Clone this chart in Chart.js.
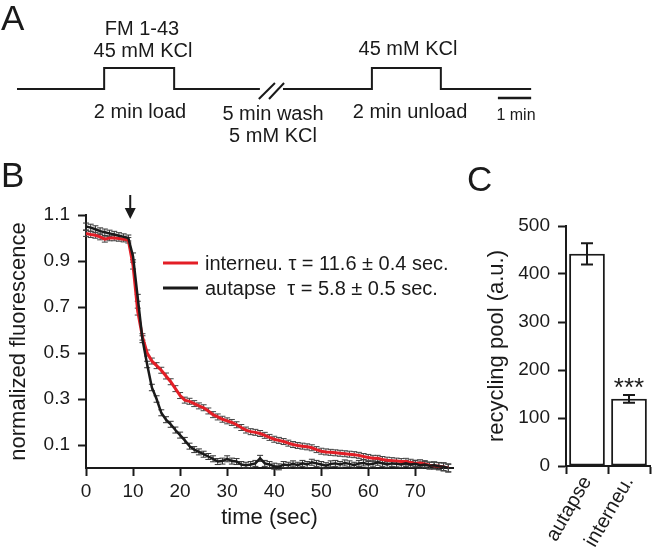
<!DOCTYPE html>
<html><head><meta charset="utf-8">
<script src="https://cdn.jsdelivr.net/npm/chart.js@4"></script>
<style>
html,body{margin:0;padding:0;background:#fff;}
body{width:652px;height:547px;position:relative;overflow:hidden;font-family:"Liberation Sans",Arial,sans-serif;color:#1a1a1a}
canvas{position:absolute}
.lbl{position:absolute;font-size:35px;line-height:35px}
</style></head><body>
<canvas id="a" width="652" height="160" style="left:0;top:0"></canvas>
<canvas id="b" width="470" height="377" style="left:0;top:170px"></canvas>
<canvas id="c" width="182" height="377" style="left:470px;top:170px"></canvas>
<div class="lbl" style="left:1px;top:0px">A</div>
<div class="lbl" style="left:1px;top:157px">B</div>
<div class="lbl" style="left:467px;top:161px">C</div>
<script>
// ---------- Panel A: protocol (minutes) ----------
const stepTimes  = [0, 2.49, 2.49, 4.49, 4.49, 6.94, 7.27, 7.6, 10.14, 10.14, 12.11, 12.11, 14.69];
const stepLevels = [0, 0, 1, 1, 0, 0, null, 0, 0, 1, 1, 0, 0];
const breakTimes1 = [6.91, 7.37];
const breakTimes2 = [7.2, 7.63];
const breakLevels = [-0.476, 0.286];
const scaleBarTimes = [13.74, 14.69];
const scaleBarLevels = [-0.43, -0.43];
const protocolTexts = ['FM 1-43', '45 mM KCl', '45 mM KCl', '2 min load', '5 min wash', '5 mM KCl', '2 min unload', '1 min'];

// ---------- Panel B: destaining ----------
const timeSec = [0,1,2,3,4,5,6,7,8,9,10,11,12,13,14,15,16,17,18,19,20,21,22,23,24,25,26,27,28,29,30,31,32,33,34,35,36,37,38,39,40,41,42,43,44,45,46,47,48,49,50,51,52,53,54,55,56,57,58,59,60,61,62,63,64,65,66,67,68,69,70,71,72,73,74,75,76,77];
const interneuron = [1.02,1.015,1.012,1.005,0.995,1.0,1.0,0.998,0.995,0.99,
 0.88,0.68,0.57,0.50,0.465,0.445,0.425,0.40,0.375,0.345,
 0.315,0.295,0.29,0.28,0.27,0.262,0.248,0.232,0.222,0.212,
 0.205,0.198,0.188,0.176,0.165,0.158,0.155,0.15,0.142,0.133,
 0.125,0.12,0.115,0.108,0.102,0.098,0.095,0.092,0.088,0.08,
 0.073,0.07,0.068,0.066,0.064,0.062,0.06,0.058,0.055,0.05,
 0.046,0.042,0.042,0.037,0.034,0.032,0.03,0.028,0.028,0.024,
 0.02,0.022,0.018,0.012,0.01,0.008,0.005,0.0];
const interneuronErr = [0.013,0.013,0.013,0.013,0.013,0.012,0.012,0.012,0.012,0.012,
 0.015,0.015,0.014,0.013,0.013,0.013,0.013,0.013,0.013,0.013,
 0.013,0.013,0.013,0.013,0.013,0.013,0.013,0.013,0.013,0.013,
 0.013,0.013,0.013,0.013,0.013,0.013,0.013,0.013,0.013,0.013,
 0.013,0.013,0.013,0.013,0.013,0.013,0.013,0.013,0.013,0.013,
 0.013,0.013,0.013,0.013,0.013,0.013,0.013,0.013,0.013,0.013,
 0.013,0.013,0.013,0.013,0.013,0.013,0.013,0.013,0.014,0.014,
 0.014,0.014,0.014,0.014,0.015,0.015,0.016,0.016];
const autapse = [1.05,1.045,1.038,1.03,1.025,1.02,1.015,1.01,1.005,1.0,
 0.92,0.74,0.56,0.45,0.35,0.30,0.24,0.21,0.19,0.165,
 0.143,0.12,0.095,0.08,0.07,0.06,0.05,0.04,0.028,0.03,
 0.04,0.03,0.028,0.015,0.012,0.015,0.02,0.042,0.02,0.015,
 0.008,0.005,0.015,0.012,0.018,0.012,0.02,0.015,0.025,0.02,
 0.015,0.01,0.018,0.02,0.015,0.022,0.018,0.012,0.02,0.022,
 0.015,0.018,0.025,0.02,0.015,0.02,0.018,0.015,0.02,0.015,
 0.018,0.012,0.015,0.01,0.012,0.008,0.005,0.0];
const autapseErr = [0.015,0.015,0.015,0.014,0.014,0.014,0.014,0.013,0.013,0.013,
 0.015,0.015,0.015,0.014,0.014,0.014,0.013,0.013,0.013,0.013,
 0.013,0.013,0.013,0.013,0.013,0.013,0.013,0.013,0.013,0.013,
 0.013,0.013,0.013,0.013,0.013,0.013,0.013,0.013,0.013,0.013,
 0.013,0.013,0.013,0.013,0.013,0.013,0.013,0.013,0.013,0.013,
 0.013,0.013,0.013,0.013,0.013,0.013,0.013,0.013,0.013,0.013,
 0.013,0.013,0.013,0.013,0.013,0.013,0.013,0.013,0.013,0.013,
 0.014,0.014,0.014,0.015,0.015,0.016,0.018,0.018];
const timeTicks = [0,10,20,30,40,50,60,70];
const fluorTicks = [0.1,0.3,0.5,0.7,0.9,1.1];
const legendLabels = ['interneu. \u03c4 = 11.6 \u00b1 0.4 sec.', 'autapse  \u03c4 = 5.8 \u00b1 0.5 sec.'];
const stimulusTime = 9.4;

// ---------- Panel C: recycling pool ----------
const poolCategories = ['autapse', 'interneu.'];
const poolValues = [442, 140];
const poolErrors = [22, 8];
const poolTicks = [0,100,200,300,400,500];
const poolSignificance = ['', '***'];

const FONT = '"Liberation Sans", Arial, sans-serif';
const INK = '#1a1a1a';
const RED = '#e31e26';
Chart.defaults.font.family = FONT;
Chart.defaults.color = INK;
Chart.defaults.animation = false;

// ---- Panel A ----
const protocolLayout = [
  {x:142, y:35, size:20}, {x:143, y:57, size:20}, {x:408, y:55, size:20},
  {x:140, y:118, size:20}, {x:273, y:120, size:20}, {x:273, y:142, size:20},
  {x:410, y:118, size:20}, {x:516, y:120, size:16}
];
const textA = {
  id:'textA',
  afterDraw(chart){
    const ctx = chart.ctx; ctx.save();
    ctx.fillStyle = INK; ctx.textAlign = 'center'; ctx.textBaseline = 'alphabetic';
    protocolTexts.forEach((t,i)=>{ const L = protocolLayout[i];
      ctx.font = L.size + 'px ' + FONT; ctx.fillText(t, L.x, L.y); });
    ctx.restore();
  }
};
const zipXY = (xs, ys) => xs.map((x,i)=>({x, y: ys[i]}));
new Chart(document.getElementById('a'), {
  type:'line',
  data:{datasets:[
    {data: zipXY(stepTimes, stepLevels), spanGaps:false},
    {data: zipXY(breakTimes1, breakLevels)},
    {data: zipXY(breakTimes2, breakLevels)},
    {data: zipXY(scaleBarTimes, scaleBarLevels), borderWidth:2.5}
  ]},
  options:{
    responsive:false, layout:{padding:0},
    plugins:{legend:{display:false}, tooltip:{enabled:false}},
    elements:{point:{radius:0}, line:{borderWidth:2, borderColor:INK, tension:0, fill:false}},
    scales:{x:{type:'linear', min:-0.4857, max:18.143, display:false},
            y:{type:'linear', min:-3.381, max:4.238, display:false}}
  },
  plugins:[textA]
});

// ---- Panel B ----
const errB = {
  id:'errB',
  beforeDatasetsDraw(chart){
    const {ctx, scales:{x,y}} = chart;
    ctx.save(); ctx.lineWidth = 1;
    chart.data.datasets.forEach(ds=>{
      ctx.strokeStyle = ds.errColor;
      ds.errors.forEach((e,j)=>{
        const v = ds.data[j].y, px = x.getPixelForValue(ds.data[j].x);
        const y1 = y.getPixelForValue(v+e), y2 = y.getPixelForValue(v-e);
        ctx.beginPath();
        ctx.moveTo(px,y1); ctx.lineTo(px,y2);
        ctx.moveTo(px-3,y1); ctx.lineTo(px+3,y1);
        ctx.moveTo(px-3,y2); ctx.lineTo(px+3,y2);
        ctx.stroke();
      });
    });
    ctx.restore();
  },
  afterDraw(chart){
    const {ctx, scales:{x}} = chart;
    ctx.save();
    const colors = [RED, INK];
    const rows = [93, 118];
    ctx.font = '20px ' + FONT; ctx.textBaseline = 'alphabetic'; ctx.textAlign = 'left';
    legendLabels.forEach((t,i)=>{
      ctx.strokeStyle = colors[i]; ctx.lineWidth = 3;
      ctx.beginPath(); ctx.moveTo(163, rows[i]); ctx.lineTo(198, rows[i]); ctx.stroke();
      ctx.fillStyle = INK; ctx.fillText(t, 205, rows[i] + 7);
    });
    const ax = x.getPixelForValue(stimulusTime);
    ctx.strokeStyle = INK; ctx.fillStyle = INK; ctx.lineWidth = 2;
    ctx.beginPath(); ctx.moveTo(ax, 25); ctx.lineTo(ax, 42); ctx.stroke();
    ctx.beginPath(); ctx.moveTo(ax-5.5, 38); ctx.lineTo(ax+5.5, 38); ctx.lineTo(ax, 49); ctx.closePath(); ctx.fill();
    ctx.restore();
  }
};
new Chart(document.getElementById('b'), {
  type:'line',
  data:{datasets:[
    {label:'autapse', data: zipXY(timeSec, autapse), errors: autapseErr, errColor:'#333', borderColor:INK, borderWidth:2.5},
    {label:'interneu.', data: zipXY(timeSec, interneuron), errors: interneuronErr, errColor:'#444', borderColor:RED, borderWidth:3}
  ]},
  options:{
    responsive:false,
    layout:{padding:{left:0, right:17, top:45, bottom:0}},
    plugins:{legend:{display:false}, tooltip:{enabled:false}},
    elements:{point:{radius:0}, line:{tension:0, fill:false}},
    scales:{
      x:{type:'linear', min:0, max:78,
        afterBuildTicks:s=>{ s.ticks = timeTicks.map(v=>({value:v})); },
        afterFit:s=>{ s.height = 79; },
        border:{display:true, color:INK, width:2},
        grid:{drawOnChartArea:false, drawTicks:true, tickLength:8, tickWidth:2, tickColor:INK},
        ticks:{font:{size:19}, color:INK, padding:4, maxRotation:0, autoSkip:false, callback:v=>String(v)},
        title:{display:true, text:'time (sec)', font:{size:22}, color:INK, padding:{top:0, bottom:16}}
      },
      y:{type:'linear', min:0, max:1.1,
        afterBuildTicks:s=>{ s.ticks = fluorTicks.map(v=>({value:v})); },
        afterFit:s=>{ s.width = 86; },
        border:{display:true, color:INK, width:2},
        grid:{drawOnChartArea:false, drawTicks:true, tickLength:8, tickWidth:2, tickColor:INK},
        ticks:{font:{size:19}, color:INK, padding:8, callback:v=>v.toFixed(1)},
        title:{display:true, text:'normalized fluorescence', font:{size:22}, color:INK, padding:{top:6, bottom:0}}
      }
    }
  },
  plugins:[errB]
});

// ---- Panel C ----
const errC = {
  id:'errC',
  afterDatasetsDraw(chart){
    const {ctx, scales:{x,y}} = chart;
    ctx.save(); ctx.strokeStyle = INK; ctx.lineWidth = 2; ctx.fillStyle = INK;
    poolValues.forEach((v,i)=>{
      const px = x.getPixelForValue(i);
      const y1 = y.getPixelForValue(v + poolErrors[i]), y2 = y.getPixelForValue(v - poolErrors[i]);
      ctx.beginPath();
      ctx.moveTo(px,y1); ctx.lineTo(px,y2);
      ctx.moveTo(px-6,y1); ctx.lineTo(px+6,y1);
      ctx.moveTo(px-6,y2); ctx.lineTo(px+6,y2);
      ctx.stroke();
      if (poolSignificance[i]) {
        ctx.font = '26px ' + FONT; ctx.textAlign = 'center'; ctx.textBaseline = 'alphabetic';
        ctx.fillText(poolSignificance[i], px, y1 + 1);
      }
    });
    ctx.restore();
  }
};
new Chart(document.getElementById('c'), {
  type:'bar',
  data:{labels: poolCategories, datasets:[{data: poolValues, backgroundColor:'#ffffff', borderColor:INK, borderWidth:2, borderSkipped:false, barPercentage:0.85, categoryPercentage:1}]},
  options:{
    responsive:false,
    layout:{padding:{left:0, right:2, top:56, bottom:0}},
    plugins:{legend:{display:false}, tooltip:{enabled:false}},
    scales:{
      x:{type:'category',
        afterFit:s=>{ s.height = 81; },
        border:{display:true, color:INK, width:2},
        grid:{drawOnChartArea:false, drawTicks:true, offset:true, tickLength:8, tickWidth:2, tickColor:INK},
        ticks:{font:{size:20}, color:INK, padding:-2, minRotation:60, maxRotation:60, autoSkip:false}
      },
      y:{type:'linear', min:0, max:500,
        afterBuildTicks:s=>{ s.ticks = poolTicks.map(v=>({value:v})); },
        afterFit:s=>{ s.width = 96; },
        border:{display:true, color:INK, width:2},
        grid:{drawOnChartArea:false, drawTicks:true, tickLength:8, tickWidth:2, tickColor:INK},
        ticks:{font:{size:19}, color:INK, padding:8, callback:v=>String(v)},
        title:{display:true, text:'recycling pool (a.u.)', font:{size:22}, color:INK, padding:{top:14, bottom:0}}
      }
    }
  },
  plugins:[errC]
});
</script>
</body></html>
